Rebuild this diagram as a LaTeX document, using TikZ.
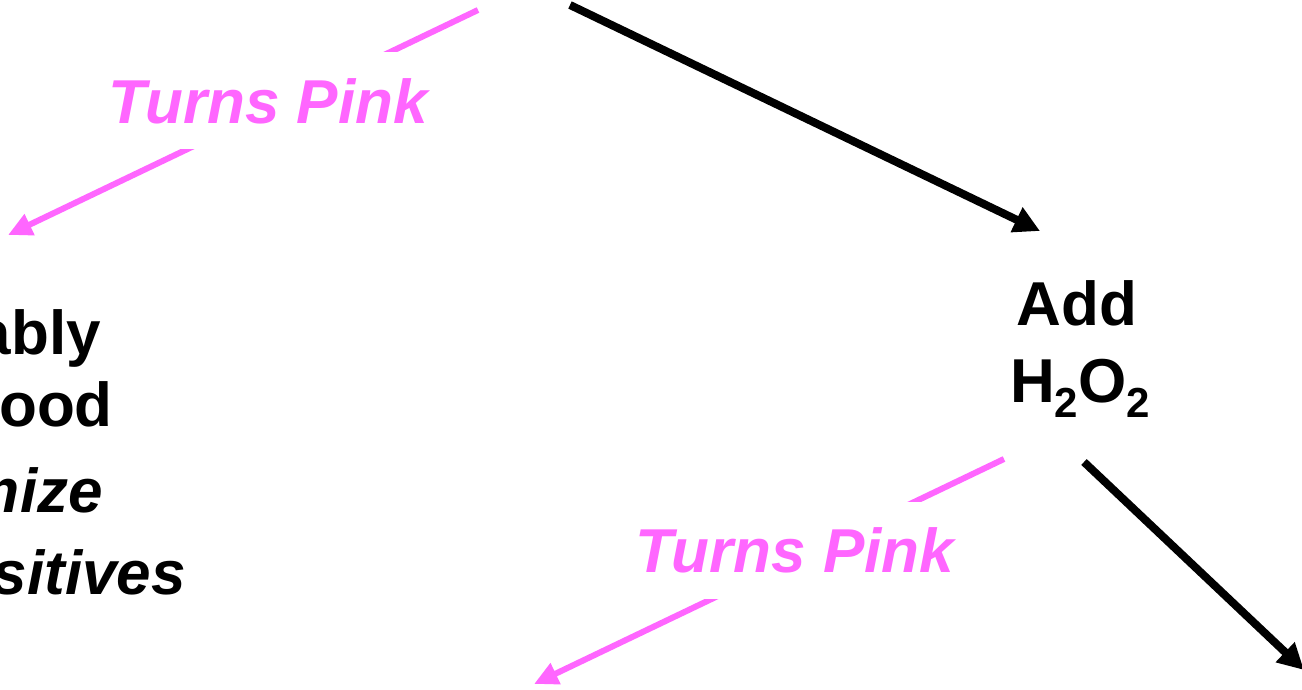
\documentclass[tikz,border=0pt]{standalone}
\usepackage{fontspec}
\setmainfont{Liberation Sans}
\usetikzlibrary{arrows.meta}
\definecolor{tpink}{RGB}{255,102,255}
\tikzset{
  blackarrow/.style={draw=black, line width=8pt, -{Triangle[length=26pt,width=26pt]}},
  pinkarrow/.style={draw=tpink, line width=6pt, -{Triangle[length=24pt,width=22pt]}},
  big/.style={font=\fontsize{62}{74}\selectfont\bfseries, inner sep=0pt},
  bigit/.style={font=\fontsize{62}{74}\selectfont\bfseries\itshape, inner sep=0pt},
  pinklabel/.style={font=\fontsize{62}{74}\selectfont\bfseries\itshape, text=tpink, fill=white, inner sep=0pt, minimum height=97pt, minimum width=330pt},
}
\begin{document}
\begin{tikzpicture}[x=1pt,y=-1pt]
\useasboundingbox (0,0) rectangle (1302,690);
\clip (0,0) rectangle (1302,690);
\fill[white] (0,0) rectangle (1302,690);
% endpoints
\coordinate (p1s) at (478,10);
\coordinate (p1e) at (8,235);
\coordinate (b1s) at (570,5);
\coordinate (b1e) at (1040,231);
\coordinate (p2s) at (1004,459);
\coordinate (p2e) at (534,684);
\coordinate (b2s) at (1084,462);
\coordinate (b2e) at (1304,670);
% texts
\node[big, anchor=base east] (t1) at (101,354) {ably};
\node[big, anchor=base east] (t2) at (113,426) {ood};
\node[bigit, anchor=base east] (t3) at (103,512) {mize};
\node[bigit, anchor=base east] (t4) at (186,594) {sitives};
\node[big, anchor=base] (add) at (1077,325) {Add};
\node[big, anchor=base] (h2o2) at (1080,402) {H\raisebox{-15pt}{\fontsize{42}{42}\selectfont 2}O\raisebox{-15pt}{\fontsize{42}{42}\selectfont 2}};
% connectors
\draw[blackarrow] (b1s) -- (b1e);
\draw[blackarrow] (b2s) -- (b2e);
\draw[pinkarrow] (p1s) -- node[pinklabel, pos=0.404, xshift=-20pt] (l1) {Turns Pink} (p1e);
\draw[pinkarrow] (p2s) -- node[pinklabel, pos=0.407, xshift=-18pt] (l2) {Turns Pink} (p2e);
\end{tikzpicture}
\end{document}
